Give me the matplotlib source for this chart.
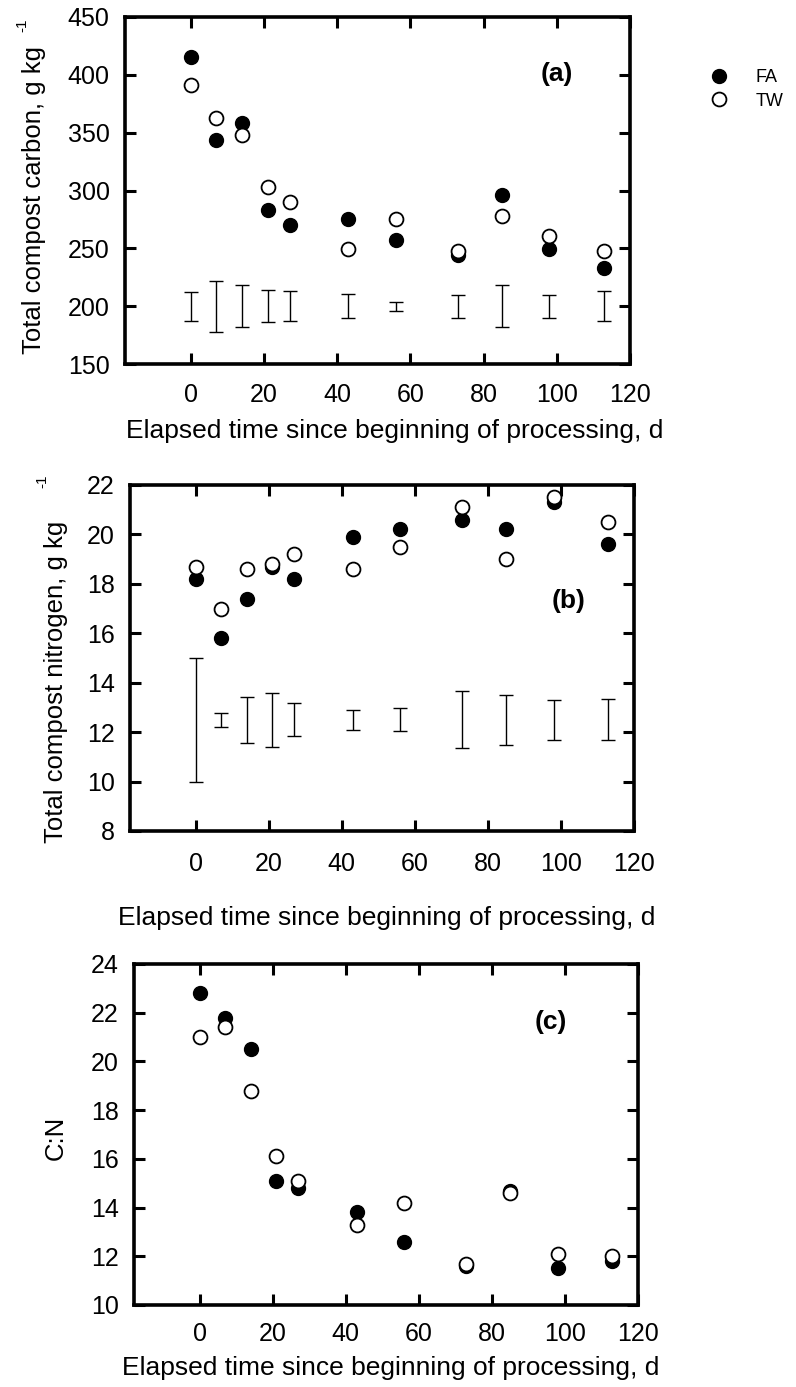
import numpy as np
import matplotlib.pyplot as plt

plt.rcParams['font.family'] = ['Liberation Sans', 'DejaVu Sans']

W, H = 796, 1387

days = [0, 7, 14, 21, 27, 43, 56, 73, 85, 98, 113]

carbon_fa = [415, 344, 358, 283, 270, 275, 257, 244, 296, 249, 233]
carbon_tw = [391, 363, 348, 303, 290, 249, 275, 248, 278, 261, 248]
carbon_bar_mid = 200
carbon_bar_half = [12.5, 22, 18, 14, 13, 10.5, 4, 10, 18, 10, 13]

nitrogen_fa = [18.2, 15.8, 17.4, 18.7, 18.2, 19.9, 20.2, 20.6, 20.2, 21.3, 19.6]
nitrogen_tw = [18.7, 17.0, 18.6, 18.8, 19.2, 18.6, 19.5, 21.1, 19.0, 21.5, 20.5]
nitrogen_bar_mid = 12.5
nitrogen_bar_half = [2.5, 0.28, 0.93, 1.1, 0.66, 0.41, 0.46, 1.15, 1.0, 0.81, 0.83]

cn_fa = [22.8, 21.8, 20.5, 15.1, 14.8, 13.8, 12.6, 11.6, 14.7, 11.5, 11.8]
cn_tw = [21.0, 21.4, 18.8, 16.1, 15.1, 13.3, 14.2, 11.7, 14.6, 12.1, 12.0]

xlabel = 'Elapsed time since beginning of processing, d'


def px(x, y):
    # pixel position in the reference -> figure fraction
    return x / W, 1 - y / H


def make_axes(fig, left, top, right, bottom):
    x0, y0 = px(left, bottom)
    x1, y1 = px(right, top)
    return fig.add_axes([x0, y0, x1 - x0, y1 - y0])


def style(ax, ylim, yticks, xpad):
    ax.set_xlim(-18, 120)
    ax.set_ylim(*ylim)
    ax.set_xticks(range(0, 121, 20))
    ax.set_yticks(yticks)
    ax.tick_params(direction='in', length=8, width=2.2, labelsize=18,
                   top=True, right=True)
    ax.tick_params(axis='x', pad=xpad)
    ax.tick_params(axis='y', pad=11)
    for s in ax.spines.values():
        s.set_linewidth(2.6)


def points(ax, fa, tw):
    l1, = ax.plot(days, fa, 'o', color='black', ms=10, label='FA', zorder=3)
    l2, = ax.plot(days, tw, 'o', mfc='white', mec='black', mew=1.3, ms=10,
                  label='TW', zorder=4)
    return l1, l2


def bars(ax, mid, half):
    ax.errorbar(days, [mid] * len(days), yerr=half, fmt='none', ecolor='black',
                elinewidth=1, capsize=5, capthick=1)


fig = plt.figure(figsize=(W / 100, H / 100), dpi=100)

# (a) carbon
ax_a = make_axes(fig, 125, 17, 630, 364)
style(ax_a, (150, 450), range(150, 451, 50), 14)
h_fa, h_tw = points(ax_a, carbon_fa, carbon_tw)
bars(ax_a, carbon_bar_mid, carbon_bar_half)
ax_a.text(100, 401, '(a)', fontsize=19, fontweight='bold', ha='center', va='center')
fig.text(*px(34, 200), 'Total compost carbon, g kg', rotation=90, fontsize=18.5,
         ha='center', va='center')
fig.text(*px(22, 25), '-1', rotation=90, fontsize=11, ha='center', va='center')
fig.text(*px(395, 431), xlabel, fontsize=19, ha='center', va='center')
fig.legend([h_fa, h_tw], ['FA', 'TW'], loc='upper left',
           bbox_to_anchor=px(694, 62), frameon=False, fontsize=13,
           handletextpad=1.0, labelspacing=0.35, borderaxespad=0)

# (b) nitrogen
ax_b = make_axes(fig, 130, 485, 634, 831)
style(ax_b, (8, 22), range(8, 23, 2), 15)
points(ax_b, nitrogen_fa, nitrogen_tw)
bars(ax_b, nitrogen_bar_mid, nitrogen_bar_half)
ax_b.text(102, 17.3, '(b)', fontsize=19, fontweight='bold', ha='center', va='center')
fig.text(*px(56, 682), 'Total compost nitrogen, g kg', rotation=90, fontsize=18.5,
         ha='center', va='center')
fig.text(*px(42, 481), '-1', rotation=90, fontsize=11, ha='center', va='center')
fig.text(*px(387, 918), xlabel, fontsize=19, ha='center', va='center')

# (c) C:N ratio
ax_c = make_axes(fig, 134, 964, 638, 1305)
style(ax_c, (10, 24), range(10, 25, 2), 12)
points(ax_c, cn_fa, cn_tw)
ax_c.text(96, 21.6, '(c)', fontsize=19, fontweight='bold', ha='center', va='center')
fig.text(*px(56, 1138), 'C:N', rotation=90, fontsize=18.5, ha='center', va='center')
fig.text(*px(391, 1368), xlabel, fontsize=19, ha='center', va='center')

fig.savefig('out.png', dpi=100)
